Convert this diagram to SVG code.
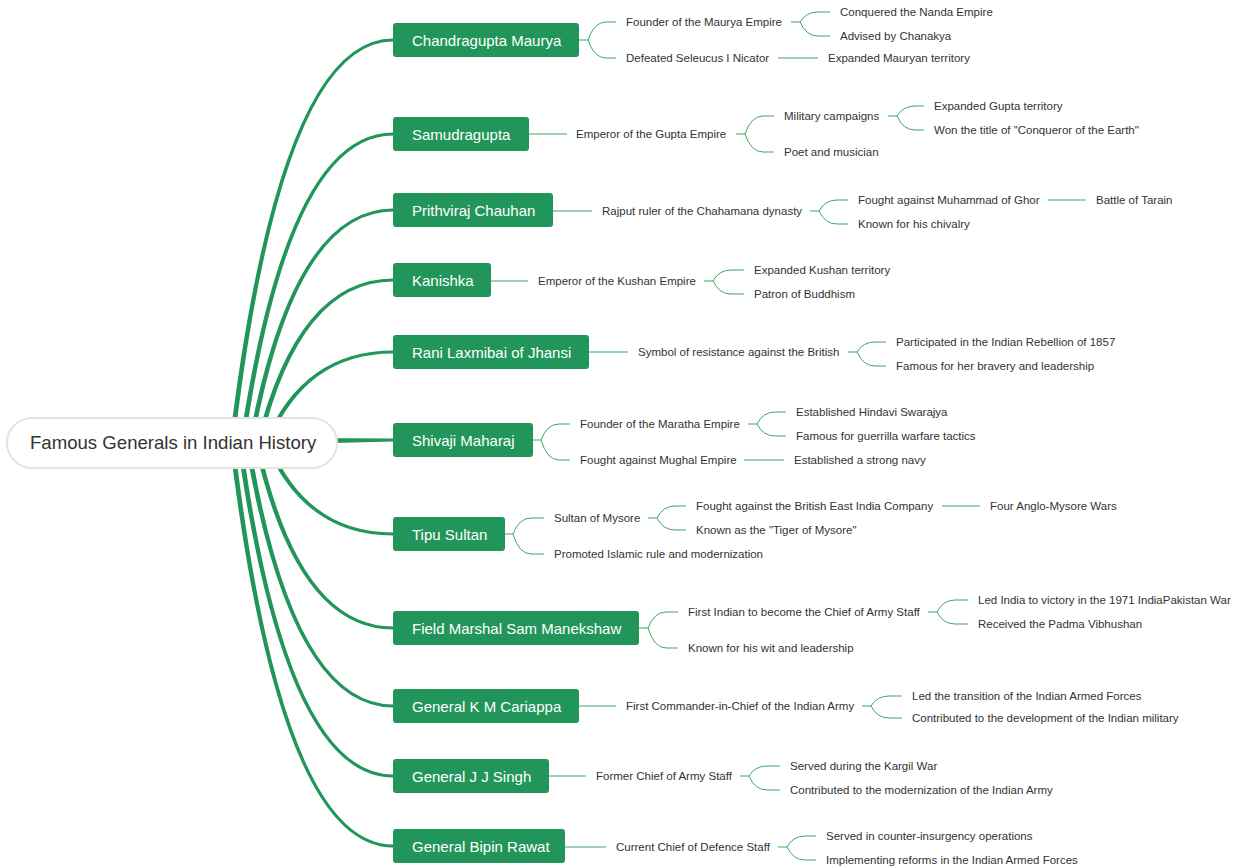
<svg xmlns="http://www.w3.org/2000/svg" width="1240" height="868" viewBox="0 0 1240 868">
<style>
.bg{fill:#ffffff}
.main{fill:#22965a;stroke:none}
.sub{fill:none;stroke:#3aa866;stroke-width:1}
.rootbox{fill:#ffffff;stroke:#e3e3e3;stroke-width:2}
.roottext{font-family:"Liberation Sans",Arial,sans-serif;font-size:18.6px;fill:#333333}
.nodebox{fill:#22965a}
.nodetext{font-family:"Liberation Sans",Arial,sans-serif;font-size:15px;fill:#ffffff}
.t{font-family:"Liberation Sans",Arial,sans-serif;font-size:11.5px;fill:#333333}
</style>
<rect class="bg" x="0" y="0" width="1240" height="868"/>
<g id="connectors">
<path class="main" d="M229.5 442 Q278.5 38.5 393 38.5 L393 41.5 Q281.5 41.5 234.5 442 Z"/>
<path class="main" d="M240 442 Q286.2 132.5 393 132.5 L393 135.5 Q289.2 135.5 245 442 Z"/>
<path class="main" d="M248.5 442 Q292.1 208.5 393 208.5 L393 211.5 Q295.1 211.5 253.5 442 Z"/>
<path class="main" d="M256.4 442 Q297.6 278.5 393 278.5 L393 281.5 Q300.6 281.5 261.4 442 Z"/>
<path class="main" d="M264.4 442 Q303.2 350.5 393 350.5 L393 353.5 Q306.2 353.5 269.4 442 Z"/>
<path class="main" d="M232 437.5 L393 438.5 L393 441.5 L232 445.5 Z"/>
<path class="main" d="M264.2 442 Q303.1 535.5 393 535.5 L393 532.5 Q306.1 532.5 269.2 442 Z"/>
<path class="main" d="M253.7 442 Q295.8 629.5 393 629.5 L393 626.5 Q298.8 626.5 258.7 442 Z"/>
<path class="main" d="M244.9 442 Q289.6 707.5 393 707.5 L393 704.5 Q292.6 704.5 249.9 442 Z"/>
<path class="main" d="M237.1 442 Q284.1 777.5 393 777.5 L393 774.5 Q287.1 774.5 242.1 442 Z"/>
<path class="main" d="M229.5 442 Q278.5 847.5 393 847.5 L393 844.5 Q281.5 844.5 234.5 442 Z"/>

<path class="sub" d="M579 40 H588 Q594 22 606 22 H616 M588 40 Q594 58 606 58 H616"/>
<path class="sub" d="M791 22 H800 Q806 12 818 12 H830 M800 22 Q806 36 818 36 H830"/>
<path class="sub" d="M778 58 H818"/>

<path class="sub" d="M529 134 H567"/>
<path class="sub" d="M736 134 H745 Q751 116 763 116 H774 M745 134 Q751 152 763 152 H774"/>
<path class="sub" d="M888 116 H897 Q903 106 915 106 H924 M897 116 Q903 130 915 130 H924"/>

<path class="sub" d="M553 211 H592"/>
<path class="sub" d="M810 211 H819 Q825 200 837 200 H848 M819 211 Q825 224 837 224 H848"/>
<path class="sub" d="M1048 200 H1086"/>

<path class="sub" d="M491 281 H528"/>
<path class="sub" d="M704 281 H713 Q719 270 731 270 H744 M713 281 Q719 294 731 294 H744"/>

<path class="sub" d="M589 352 H628"/>
<path class="sub" d="M848 352 H857 Q863 342 875 342 H886 M857 352 Q863 366 875 366 H886"/>

<path class="sub" d="M533 440 H541 Q547 424 559 424 H570 M541 440 Q547 460 559 460 H570"/>
<path class="sub" d="M748 424 H757 Q763 412 775 412 H786 M757 424 Q763 436 775 436 H786"/>
<path class="sub" d="M744 460 H784"/>

<path class="sub" d="M505 534 H513 Q519 518 531 518 H544 M513 534 Q519 554 531 554 H544"/>
<path class="sub" d="M648 518 H657 Q663 506 675 506 H686 M657 518 Q663 530 675 530 H686"/>
<path class="sub" d="M942 506 H980"/>

<path class="sub" d="M639 628 H648 Q654 612 666 612 H678 M648 628 Q654 648 666 648 H678"/>
<path class="sub" d="M928 612 H937 Q943 600 955 600 H968 M937 612 Q943 624 955 624 H968"/>

<path class="sub" d="M579 706 H616"/>
<path class="sub" d="M862 706 H871 Q877 696 889 696 H902 M871 706 Q877 718 889 718 H902"/>

<path class="sub" d="M549 776 H586"/>
<path class="sub" d="M740 776 H749 Q755 766 767 766 H780 M749 776 Q755 790 767 790 H780"/>

<path class="sub" d="M565 847 H606"/>
<path class="sub" d="M778 847 H787 Q793 836 805 836 H816 M787 847 Q793 860 805 860 H816"/>
</g>

<g id="root">
<rect class="rootbox" x="7" y="418" width="330" height="50" rx="25"/>
<text class="roottext" x="30" y="449">Famous Generals in Indian History</text>
</g>

<g id="n1">
<rect class="nodebox" x="393" y="23" width="186" height="34" rx="3"/>
<text class="nodetext" x="412" y="45.5">Chandragupta Maurya</text>
<text class="t" x="626" y="26">Founder of the Maurya Empire</text>
<text class="t" x="840" y="16">Conquered the Nanda Empire</text>
<text class="t" x="840" y="40">Advised by Chanakya</text>
<text class="t" x="626" y="62">Defeated Seleucus I Nicator</text>
<text class="t" x="828" y="62">Expanded Mauryan territory</text>
</g>

<g id="n2">
<rect class="nodebox" x="393" y="117" width="136" height="34" rx="3"/>
<text class="nodetext" x="412" y="139.5">Samudragupta</text>
<text class="t" x="576" y="138">Emperor of the Gupta Empire</text>
<text class="t" x="784" y="120">Military campaigns</text>
<text class="t" x="934" y="110">Expanded Gupta territory</text>
<text class="t" x="934" y="134">Won the title of "Conqueror of the Earth"</text>
<text class="t" x="784" y="156">Poet and musician</text>
</g>

<g id="n3">
<rect class="nodebox" x="393" y="193" width="160" height="34" rx="3"/>
<text class="nodetext" x="412" y="215.5">Prithviraj Chauhan</text>
<text class="t" x="602" y="215">Rajput ruler of the Chahamana dynasty</text>
<text class="t" x="858" y="204">Fought against Muhammad of Ghor</text>
<text class="t" x="1096" y="204">Battle of Tarain</text>
<text class="t" x="858" y="228">Known for his chivalry</text>
</g>

<g id="n4">
<rect class="nodebox" x="393" y="263" width="98" height="34" rx="3"/>
<text class="nodetext" x="412" y="285.5">Kanishka</text>
<text class="t" x="538" y="285">Emperor of the Kushan Empire</text>
<text class="t" x="754" y="274">Expanded Kushan territory</text>
<text class="t" x="754" y="298">Patron of Buddhism</text>
</g>

<g id="n5">
<rect class="nodebox" x="393" y="335" width="196" height="34" rx="3"/>
<text class="nodetext" x="412" y="357.5">Rani Laxmibai of Jhansi</text>
<text class="t" x="638" y="356">Symbol of resistance against the British</text>
<text class="t" x="896" y="346">Participated in the Indian Rebellion of 1857</text>
<text class="t" x="896" y="370">Famous for her bravery and leadership</text>
</g>

<g id="n6">
<rect class="nodebox" x="393" y="423" width="140" height="34" rx="3"/>
<text class="nodetext" x="412" y="445.5">Shivaji Maharaj</text>
<text class="t" x="580" y="428">Founder of the Maratha Empire</text>
<text class="t" x="796" y="416">Established Hindavi Swarajya</text>
<text class="t" x="796" y="440">Famous for guerrilla warfare tactics</text>
<text class="t" x="580" y="464">Fought against Mughal Empire</text>
<text class="t" x="794" y="464">Established a strong navy</text>
</g>

<g id="n7">
<rect class="nodebox" x="393" y="517" width="112" height="34" rx="3"/>
<text class="nodetext" x="412" y="539.5">Tipu Sultan</text>
<text class="t" x="554" y="522">Sultan of Mysore</text>
<text class="t" x="696" y="510">Fought against the British East India Company</text>
<text class="t" x="990" y="510">Four Anglo-Mysore Wars</text>
<text class="t" x="696" y="534">Known as the "Tiger of Mysore"</text>
<text class="t" x="554" y="558">Promoted Islamic rule and modernization</text>
</g>

<g id="n8">
<rect class="nodebox" x="393" y="611" width="246" height="34" rx="3"/>
<text class="nodetext" x="412" y="633.5">Field Marshal Sam Manekshaw</text>
<text class="t" x="688" y="616">First Indian to become the Chief of Army Staff</text>
<text class="t" x="978" y="604">Led India to victory in the 1971 IndiaPakistan War</text>
<text class="t" x="978" y="628">Received the Padma Vibhushan</text>
<text class="t" x="688" y="652">Known for his wit and leadership</text>
</g>

<g id="n9">
<rect class="nodebox" x="393" y="689" width="186" height="34" rx="3"/>
<text class="nodetext" x="412" y="711.5">General K M Cariappa</text>
<text class="t" x="626" y="710">First Commander-in-Chief of the Indian Army</text>
<text class="t" x="912" y="700">Led the transition of the Indian Armed Forces</text>
<text class="t" x="912" y="722">Contributed to the development of the Indian military</text>
</g>

<g id="n10">
<rect class="nodebox" x="393" y="759" width="156" height="34" rx="3"/>
<text class="nodetext" x="412" y="781.5">General J J Singh</text>
<text class="t" x="596" y="780">Former Chief of Army Staff</text>
<text class="t" x="790" y="770">Served during the Kargil War</text>
<text class="t" x="790" y="794">Contributed to the modernization of the Indian Army</text>
</g>

<g id="n11">
<rect class="nodebox" x="393" y="829" width="172" height="34" rx="3"/>
<text class="nodetext" x="412" y="851.5">General Bipin Rawat</text>
<text class="t" x="616" y="851">Current Chief of Defence Staff</text>
<text class="t" x="826" y="840">Served in counter-insurgency operations</text>
<text class="t" x="826" y="864">Implementing reforms in the Indian Armed Forces</text>
</g>
</svg>
